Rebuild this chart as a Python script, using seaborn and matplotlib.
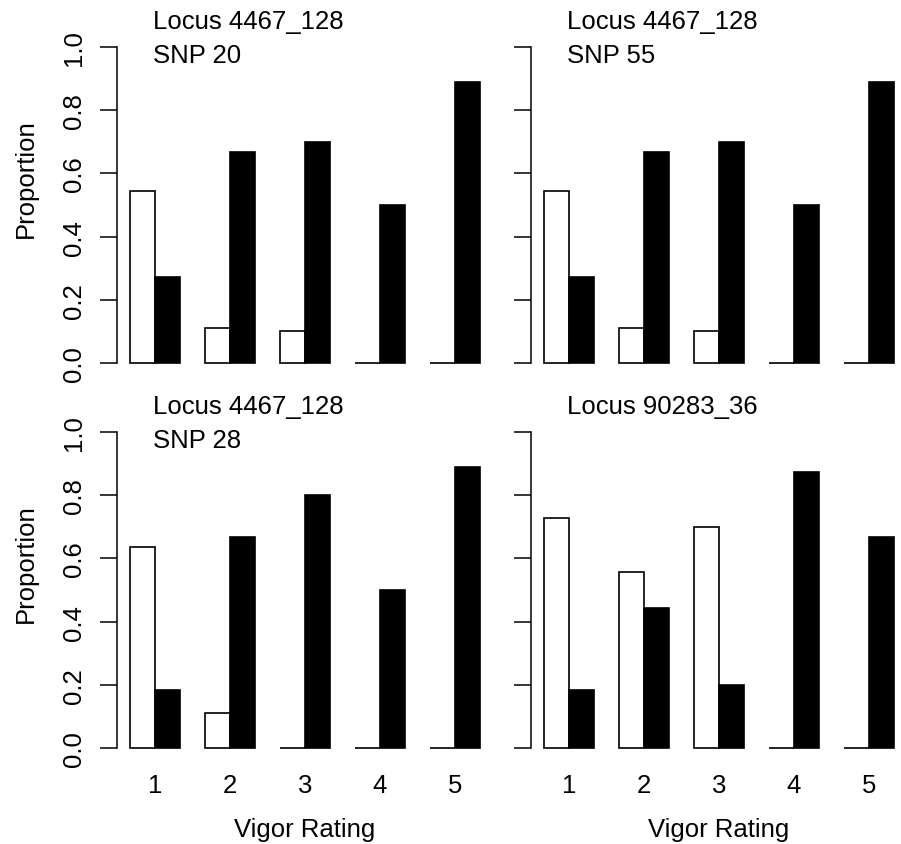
import matplotlib
matplotlib.use("Agg")
import matplotlib.pyplot as plt
import seaborn as sns
import pandas as pd

# ---- data ----
ratings = ["1", "2", "3", "4", "5"]
alleles = ["white", "black"]
panel_titles = [
    ["Locus 4467_128", "SNP 20"],
    ["Locus 4467_128", "SNP 55"],
    ["Locus 4467_128", "SNP 28"],
    ["Locus 90283_36"],
]
white_vals = [
    [0.545, 0.111, 0.100, 0.0, 0.0],
    [0.545, 0.111, 0.100, 0.0, 0.0],
    [0.636, 0.111, 0.0, 0.0, 0.0],
    [0.727, 0.556, 0.700, 0.0, 0.0],
]
black_vals = [
    [0.273, 0.667, 0.700, 0.500, 0.889],
    [0.273, 0.667, 0.700, 0.500, 0.889],
    [0.182, 0.667, 0.800, 0.500, 0.889],
    [0.182, 0.444, 0.200, 0.875, 0.667],
]
yticks = [0.0, 0.2, 0.4, 0.6, 0.8, 1.0]
ytick_labels = ["0.0", "0.2", "0.4", "0.6", "0.8", "1.0"]
xlabel = "Vigor Rating"
ylabel = "Proportion"

sns.set_style("white")
plt.rcParams["font.family"] = ["Liberation Sans", "DejaVu Sans"]
plt.rcParams["text.color"] = "black"
plt.rcParams["axes.labelcolor"] = "black"
plt.rcParams["xtick.color"] = "black"
plt.rcParams["ytick.color"] = "black"

W, H = 901, 845
fig = plt.figure(figsize=(W / 100, H / 100), dpi=100)

FS = 18.5
# panel geometry in pixels (left, top) of plot region
panel_left = [117, 531, 117, 531]
panel_top = [35.4, 35.4, 420.4, 420.4]
pw, ph = 376, 341.2

for i in range(4):
    l, t = panel_left[i], panel_top[i]
    ax = fig.add_axes([l / W, 1 - (t + ph) / H, pw / W, ph / H])
    df = pd.DataFrame({
        "rating": ratings * 2,
        "allele": ["white"] * 5 + ["black"] * 5,
        "prop": white_vals[i] + black_vals[i],
    })
    sns.barplot(data=df, x="rating", y="prop", hue="allele", order=ratings,
                hue_order=alleles, palette=["white", "black"], saturation=1,
                edgecolor="black", linewidth=1.2, width=2 / 3, errorbar=None,
                legend=False, ax=ax)
    ax.set_xlim(-0.507, 4.507)
    ax.set_ylim(-0.04, 1.04)
    ax.set_xlabel("")
    ax.set_ylabel("")
    for s in ["top", "right", "bottom"]:
        ax.spines[s].set_visible(False)
    ax.spines["left"].set_bounds(0, 1)
    ax.spines["left"].set_linewidth(1.1)
    ax.spines["left"].set_color("black")
    ax.set_facecolor("none")
    ax.set_yticks(yticks)
    if i % 2 == 0:
        ax.set_yticklabels(ytick_labels, rotation=90, va="center", fontsize=FS)
    else:
        ax.set_yticklabels([])
    ax.tick_params(axis="y", length=12.2, width=1.1, color="black", pad=10,
                   left=True)
    if i >= 2:
        ax.set_xticks(range(5))
        ax.set_xticklabels(ratings, fontsize=FS)
        ax.tick_params(axis="x", length=0, pad=9)
        xc = (l + pw / 2) / W
        fig.text(xc, 1 - 837 / H, xlabel, ha="center", va="baseline", fontsize=FS)
    else:
        ax.set_xticks([])
    if i % 2 == 0:
        yc = t + 143
        fig.text(26 / W, 1 - yc / H, ylabel, rotation=90, ha="center",
                 va="center", fontsize=FS)
    # titles
    tx = l + 36
    base = 29.5 if i < 2 else 414.5
    for k, line in enumerate(panel_titles[i]):
        fig.text(tx / W, 1 - (base + k * 33.5) / H, line, ha="left",
                 va="baseline", fontsize=FS)

fig.savefig("out.png", dpi=100, facecolor="white")
